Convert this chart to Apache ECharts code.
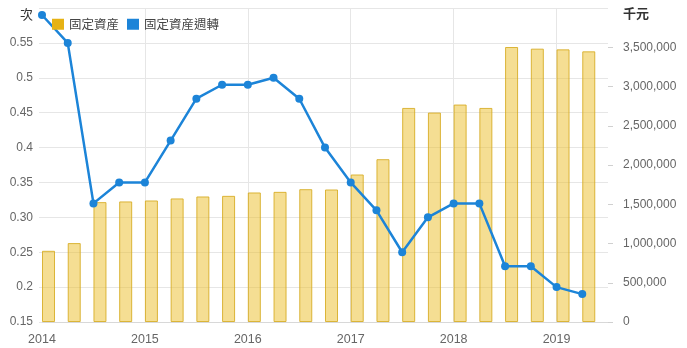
<!DOCTYPE html>
<html>
<head>
<meta charset="utf-8">
<script src="https://cdn.jsdelivr.net/npm/echarts@6/dist/echarts.min.js"></script>
<style>
html,body{margin:0;padding:0;background:#fff;}
#c{width:687px;height:348px;}
</style>
</head>
<body>
<div id="c"></div>
<script>
// ---- data ----
const quarters = ['2014Q1','2014Q2','2014Q3','2014Q4','2015Q1','2015Q2','2015Q3','2015Q4',
  '2016Q1','2016Q2','2016Q3','2016Q4','2017Q1','2017Q2','2017Q3','2017Q4',
  '2018Q1','2018Q2','2018Q3','2018Q4','2019Q1','2019Q2'];
const fixedAssets = [907000,1005000,1527000,1536000,1548000,1574000,1599000,1607000,
  1650000,1658000,1692000,1688000,1879000,2074000,2727000,2668000,
  2770000,2727000,3503000,3482000,3473000,3448000];
const turnover = [0.59,0.55,0.32,0.35,0.35,0.41,0.47,0.49,
  0.49,0.50,0.47,0.40,0.35,0.31,0.25,0.30,
  0.32,0.32,0.23,0.23,0.20,0.19];
const leftTickLabels = ['0.15','0.2','0.25','0.30','0.35','0.4','0.45','0.5','0.55',''];
const seriesNames = ['固定資産','固定資産週轉'];
const axisNames = ['次','千元'];

function qToYear(q){ return parseInt(q.slice(0,4),10) + (parseInt(q.slice(5),10)-1)/4; }
const xs = quarters.map(qToYear);
const barData = xs.map((x,i)=>[x, fixedAssets[i]]);
const lineData = xs.map((x,i)=>[x, turnover[i]]);
const dummyData = xs.map(x=>[x, null]);

const gold = '#E6B214';
const blue = '#1c84d8';
const gridC = '#e6e6e6';
const FONT = '"Liberation Sans", Arial, "Noto Sans CJK TC", sans-serif';

const chart = echarts.init(document.getElementById('c'), null, {renderer:'canvas'});
chart.setOption({
  animation:false,
  textStyle:{fontFamily:FONT},
  legend:{
    left:47, top:13, icon:'rect', itemWidth:12, itemHeight:11, itemGap:8,
    textStyle:{fontSize:12.5, color:'#444', fontFamily:'"Noto Sans CJK TC", sans-serif'},
    data:[
      {name:seriesNames[0], itemStyle:{color:gold, opacity:1, borderWidth:0}},
      {name:seriesNames[1], itemStyle:{color:blue}}
    ]
  },
  grid:{left:42, right:79, top:8, bottom:26, containLabel:false},
  xAxis:{
    type:'value', min:2014, max:2019.5, interval:1,
    axisLine:{show:true, lineStyle:{color:'#d8d8d8'}},
    axisTick:{show:false},
    axisLabel:{color:'#666', fontSize:12.5, margin:11, showMaxLabel:false,
      formatter:v=> (Math.abs(v-Math.round(v))<1e-6 ? String(Math.round(v)) : '')},
    splitLine:{show:true, lineStyle:{color:['rgba(0,0,0,0)',gridC,gridC,gridC,gridC,gridC,'rgba(0,0,0,0)']}}
  },
  yAxis:[
    {
      type:'value', min:0.15, max:0.6, interval:0.05, position:'left',
      name:axisNames[0], nameLocation:'end', nameGap:-6,
      nameTextStyle:{align:'right', verticalAlign:'middle', padding:[0,9,0,0], color:'#333', fontSize:13, fontFamily:'"Noto Sans CJK TC", sans-serif'},
      axisLine:{show:false},
      axisTick:{show:true, length:3, lineStyle:{color:gridC}},
      axisLabel:{color:'#666', fontSize:12, margin:9, formatter:(v,i)=>leftTickLabels[i]},
      splitLine:{show:true, lineStyle:{color:gridC}}
    },
    {
      type:'value', min:0, max:4000000, interval:500000, position:'right',
      name:axisNames[1], nameLocation:'end', nameGap:-5,
      nameTextStyle:{align:'left', verticalAlign:'middle', padding:[0,0,0,15], color:'#333', fontSize:13, fontWeight:'bold', fontFamily:'"Noto Sans CJK TC", sans-serif'},
      axisLine:{show:false},
      axisTick:{show:true, length:5, inside:false, lineStyle:{color:'#d0d0d0'}},
      axisLabel:{color:'#666', fontSize:12, margin:15, showMaxLabel:false,
        formatter:v=>v.toLocaleString('en-US')},
      splitLine:{show:false}
    }
  ],
  series:[
    {name:'_pad', type:'bar', yAxisIndex:1, data:dummyData, barWidth:13, barGap:'0%', silent:true, itemStyle:{color:'rgba(0,0,0,0)'}},
    {name:seriesNames[0], type:'bar', yAxisIndex:1, data:barData, barWidth:13, barGap:'0%',
      itemStyle:{color:'rgba(236,190,40,0.5)', borderColor:'rgba(214,170,30,0.85)', borderWidth:1}},
    {name:seriesNames[1], type:'line', yAxisIndex:0, data:lineData,
      symbol:'circle', symbolSize:8, showSymbol:true,
      lineStyle:{color:blue, width:2.5}, itemStyle:{color:blue}, z:3}
  ]
});
</script>
</body>
</html>
